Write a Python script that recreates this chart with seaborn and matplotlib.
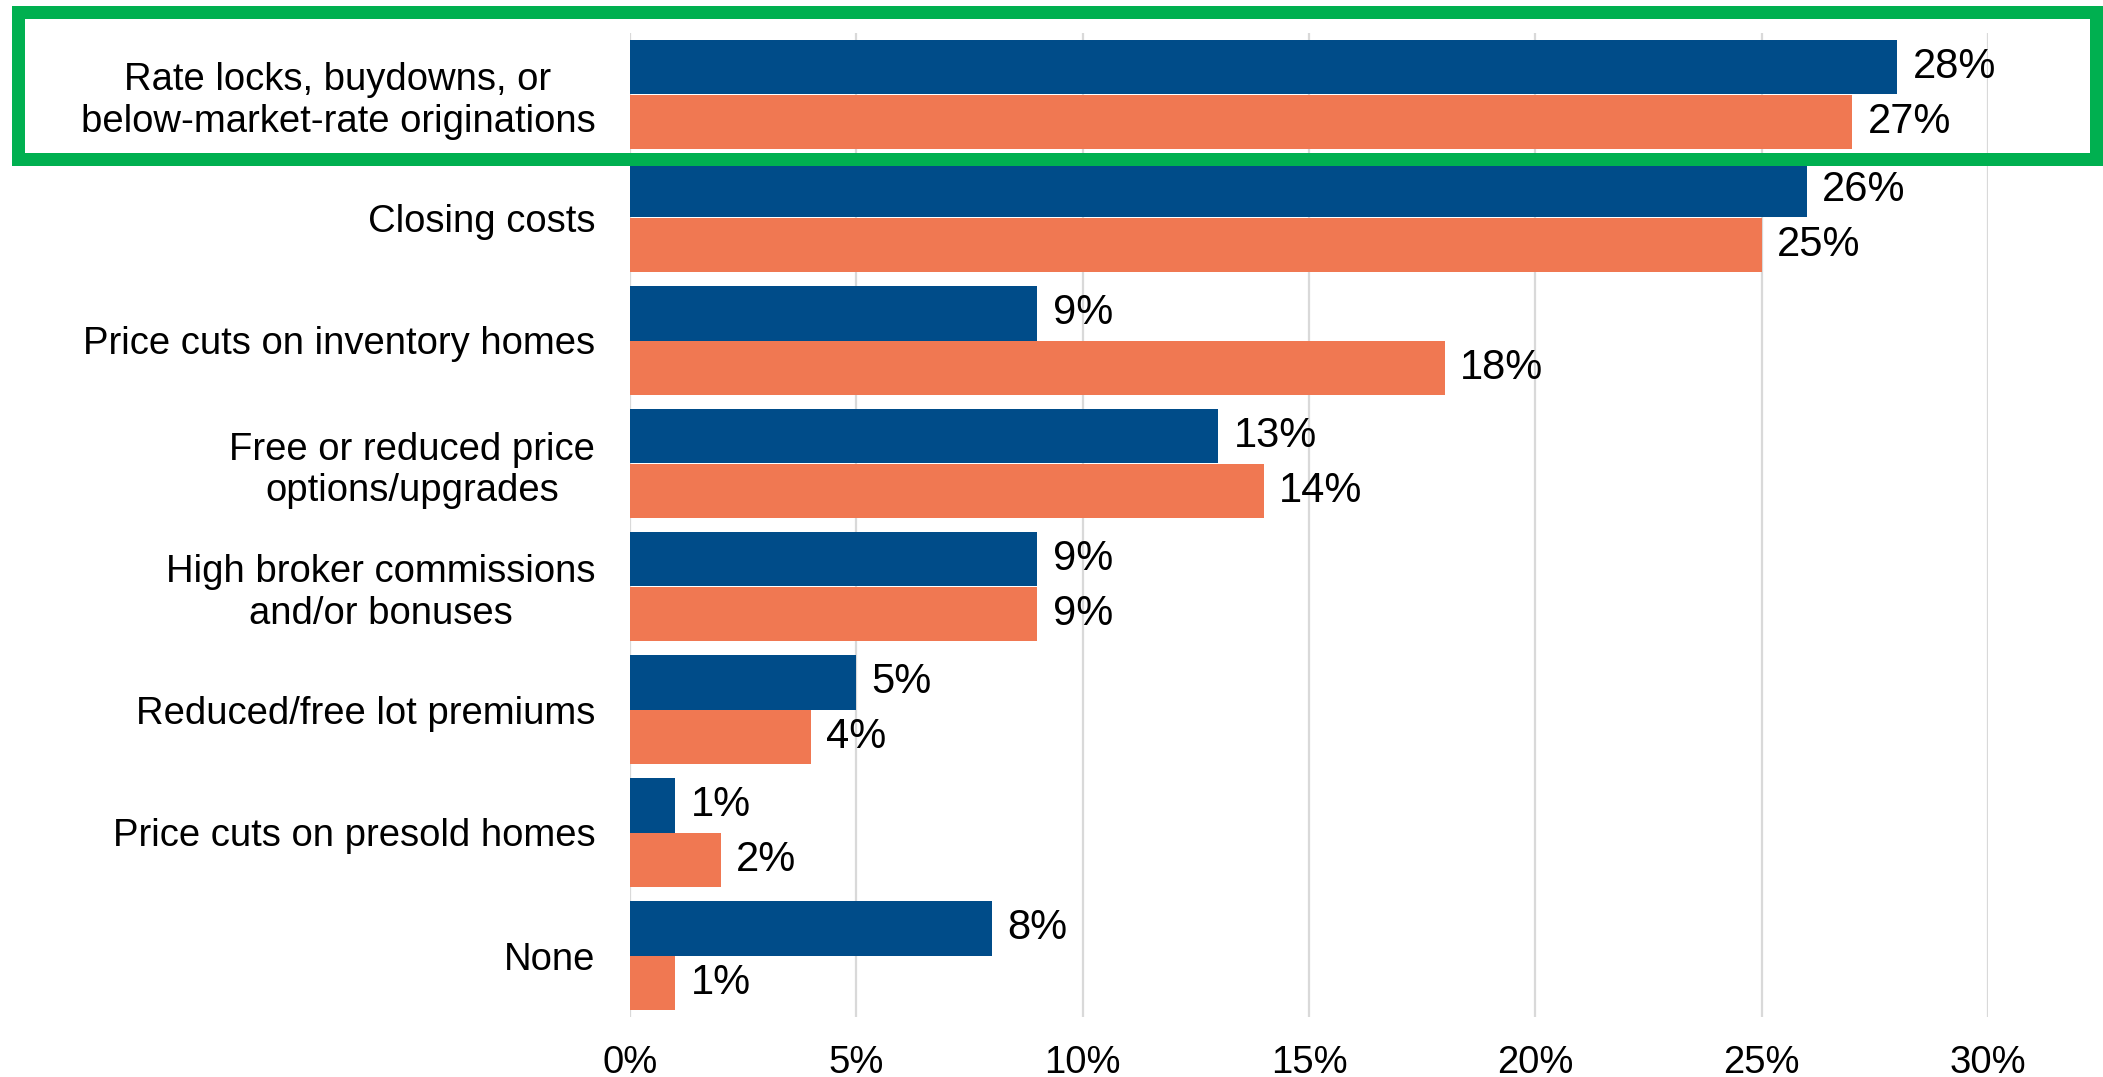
import matplotlib
matplotlib.use("Agg")
import matplotlib.pyplot as plt
from matplotlib.patches import Rectangle
import pandas as pd
import seaborn as sns

# Incentive categories (top to bottom) and the share of builders using each
categories = [
    "Rate locks, buydowns, or\nbelow-market-rate originations",
    "Closing costs",
    "Price cuts on inventory homes",
    "Free or reduced price\noptions/upgrades",
    "High broker commissions\nand/or bonuses",
    "Reduced/free lot premiums",
    "Price cuts on presold homes",
    "None",
]
series_names = ["First", "Second"]
first_values = [28, 26, 9, 13, 9, 5, 1, 8]
second_values = [27, 25, 18, 14, 9, 4, 2, 1]
x_ticks = [0, 5, 10, 15, 20, 25, 30]
x_tick_labels = ["0%", "5%", "10%", "15%", "20%", "25%", "30%"]

df = pd.DataFrame({
    "category": categories * 2,
    "series": [series_names[0]] * len(categories) + [series_names[1]] * len(categories),
    "value": first_values + second_values,
})

sns.set_theme(style="white")
plt.rcParams["font.family"] = ["Liberation Sans", "DejaVu Sans"]
plt.rcParams["text.color"] = "black"
plt.rcParams["xtick.color"] = "black"
plt.rcParams["ytick.color"] = "black"

W, H = 2103, 1077
fig = plt.figure(figsize=(W / 100, H / 100), dpi=100)
ax = fig.add_axes([630 / W, 1 - 1017 / H, (1988 - 630) / W, (1017 - 33) / H])

palette = {"First": "#004C89", "Second": "#F07852"}
sns.barplot(
    data=df, y="category", x="value", hue="series", order=categories,
    hue_order=series_names, palette=palette, orient="h", width=0.886,
    saturation=1, linewidth=0, legend=False, ax=ax, zorder=2,
)

for cont in ax.containers:
    ax.bar_label(cont, labels=[f"{v:.0f}%" for v in cont.datavalues],
                 padding=11, fontsize=30, color="black")

ax.set_xlim(0, 30)
ax.set_ylim(len(categories) - 0.5, -0.5)
ax.set_xticks(x_ticks)
ax.set_xticklabels(x_tick_labels, fontsize=27.5)
ax.set_xlabel("")
ax.set_ylabel("")
ax.tick_params(axis="x", length=0, pad=20, labelcolor="black")
ax.tick_params(axis="y", length=0, pad=25, labelsize=27.5, labelcolor="black")
for lab in ax.get_yticklabels():
    lab.set_multialignment("center")

ax.grid(axis="x", color="#D9D9D9", linewidth=1.6, zorder=0)
ax.grid(axis="y", visible=False)
ax.set_axisbelow(True)
for s in ax.spines.values():
    s.set_visible(False)

# Highlight box around the top category
lw_px = 13
fig.patches.append(Rectangle(
    (18 / W, 1 - 158.5 / H), (2096 - 18) / W, (158.5 - 12.5) / H,
    transform=fig.transFigure, fill=False, edgecolor="#00B050",
    linewidth=lw_px * 0.72, zorder=10,
))

fig.savefig("out.png", dpi=100, facecolor="white")
